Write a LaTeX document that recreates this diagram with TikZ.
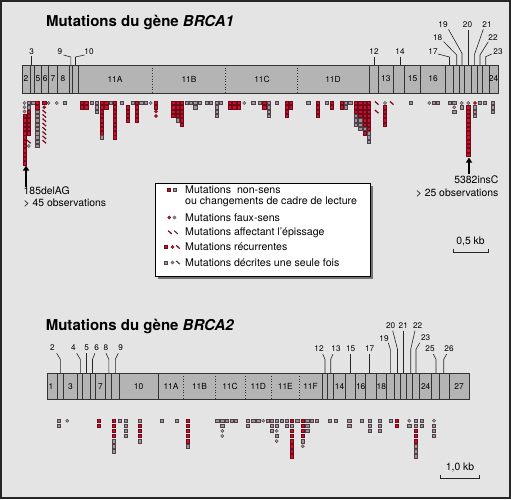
\documentclass[tikz,border=0pt]{standalone}
\usepackage{fontspec}
\setmainfont{TeX Gyre Heros}
\usetikzlibrary{arrows.meta}
\definecolor{bgc}{HTML}{E4E4E4}
\definecolor{barfill}{HTML}{B4B4B4}
\definecolor{mred}{HTML}{C8102E}
\definecolor{mredd}{HTML}{6E0A18}
\definecolor{mgray}{HTML}{A2929B}
\definecolor{mgrayd}{HTML}{4E4248}
\newcommand\mutcol[4]{%
  \foreach \mtype [count=\midx from 0] in {#4} {\pic at ({#1},{#2+\midx*#3}) {mk\mtype};}}
\newcommand\Aco[2]{\mutcol{#1}{103}{4.3}{#2}}
\newcommand\Bco[2]{\mutcol{#1}{420.7}{5.1}{#2}}
\tikzset{
  mkr/.pic={\filldraw[fill=mred,draw=mredd,line width=0.5pt] (-1.7,-1.7) rectangle (1.7,1.7);},
  mkg/.pic={\filldraw[fill=mgray,draw=mgrayd,line width=0.5pt] (-1.7,-1.7) rectangle (1.7,1.7);},
  mkd/.pic={\filldraw[fill=mgray,draw=mgrayd,line width=0.4pt] (0,0) circle (1.6pt);},
  mke/.pic={\filldraw[fill=mred,draw=mredd,line width=0.4pt] (0,0) circle (1.6pt);},
  mks/.pic={\draw[mredd,line width=1.2pt] (-1.8,-1.6) -- (1.8,1.6);},
  mkt/.pic={\draw[mgrayd,line width=1.2pt] (-1.8,-1.6) -- (1.8,1.6);},
  mkn/.pic={},
  genebar/.style={fill=barfill,draw=black!80,line width=0.8pt},
  exline/.style={draw=black!80,line width=0.7pt},
  dotline/.style={draw=black!80,line width=0.7pt,dotted},
  leader/.style={draw=black!85,line width=0.6pt},
  exlab/.style={font=\fontsize{8.4}{9}\selectfont,inner sep=0pt},
  numlab/.style={font=\fontsize{8.2}{9}\selectfont,inner sep=0pt},
  ann/.style={font=\fontsize{10.4}{12}\selectfont,inner sep=0pt},
  legtxt/.style={font=\fontsize{10.6}{12}\selectfont,inner sep=0pt,anchor=west},
  titlestyle/.style={font=\fontsize{15}{18}\selectfont\bfseries,inner sep=0pt},
  bigarrow/.style={draw=black,line width=1.6pt,-{Triangle[length=5pt,width=6pt]}},
  scalebar/.style={draw=black!85,line width=0.7pt},
}
\begin{document}
\begin{tikzpicture}[x=1pt,y=-1pt]
\useasboundingbox (0,0) rectangle (511,499);
\fill[bgc] (0,0) rectangle (511,499);
\draw[line width=2pt,black!85] (1,1) rectangle (510,498);

% ================= BRCA1 =================
\node[titlestyle] (title1) at (140,22.7) {Mutations du gène \textit{BRCA1}};
\path[genebar] (22,65) rectangle (498,93);
\foreach \x in {30,34,41.7,48.7,57.3,69,72.7,78.3,369.3,378.3,393.3,404.3,420.7,445.3,453.7,459.7,464.3,471.3,477.3,482,489}
  \draw[exline] (\x,65) -- (\x,93);
\foreach \x in {152.7,225.7,297.7}
  \draw[dotline] (\x,65) -- (\x,93);
\foreach \x/\n in {26/2,38/5,45.2/6,53/7,63/8,115/11A,189/11B,262/11C,333/11D,385.8/13,412.5/15,433/16,493.5/24}
  \node[exlab] (a\n) at (\x,79) {\n};
% numbered ticks
\node[numlab] (n3) at (31.7,51.7) {3};
\draw[leader] (31.5,56) -- (31.5,65);
\node[numlab] (n9) at (60,51.7) {9};
\draw[leader] (63.5,55) -- (70.8,57) -- (70.8,65);
\node[numlab] (n10) at (89,51.7) {10};
\draw[leader] (84.5,55) -- (75.5,57) -- (75.5,65);
\node[numlab] (n12) at (374,51.7) {12};
\draw[leader] (374,56.5) -- (374,65);
\node[numlab] (n14) at (400,51.7) {14};
\draw[leader] (400,56.5) -- (400,65);
\node[numlab] (n17) at (433,51.7) {17};
\draw[leader] (438,54) -- (449.5,57) -- (449.5,65);
\node[numlab] (n18) at (437.7,37.7) {18};
\draw[leader] (443.5,41.5) -- (456.7,55) -- (456.7,65);
\node[numlab] (n19) at (443,25) {19};
\draw[leader] (448.5,29.3) -- (462,53.3) -- (462,65);
\node[numlab] (n20) at (467.5,25) {20};
\draw[leader] (468,30) -- (468,65);
\node[numlab] (n21) at (487,25) {21};
\draw[leader] (483.3,29.3) -- (474.3,55) -- (474.3,65);
\node[numlab] (n22) at (493,37.7) {22};
\draw[leader] (488.3,41.7) -- (480,55) -- (480,65);
\node[numlab] (n23) at (498,51.7) {23};
\draw[leader] (491.7,54) -- (485.7,56.7) -- (485.7,65);

% BRCA1 mutations
\Aco{24.5}{d,d,d,r,r,r,r,r,r,r,r,r,r,r,r}
\Aco{28.8}{g,g,r,r,r,r,r,r,n,s,d}
\Aco{33.1}{g}
\Aco{37.4}{r,r,g,g,g,g,g,g,g,g,g}
\Aco{44.3}{r,e,s,s,s,s,s,s,s,s}
\Aco{48.6}{d}
\Aco{56.7}{d}
\Aco{65}{g}
\Aco{82}{r,r}
\Aco{86.3}{r,r}
\Aco{91.7}{g}
\Aco{96.7}{g,g,g}
\Aco{101.7}{r,r,r,r,r,r,r,r,g}
\Aco{106.2}{r,r}
\Aco{110.5}{g}
\Aco{115}{r,r,r,r,r,r,r,r,r}
\Aco{121.7}{g}
\Aco{127.5}{n,r,r,r,r}
\Aco{132.7}{g}
\Aco{136.9}{r,r,r,r,r}
\Aco{141.2}{g}
\Aco{145.5}{g}
\Aco{150.7}{d}
\Aco{156}{r,r,e,e}
\Aco{173.3}{r,r,r,r}
\Aco{177.6}{r,r,r,r,g}
\Aco{181.9}{r,r,r,r,r,r}
\Aco{186.7}{g}
\Aco{191}{g}
\Aco{195.3}{g,g}
\Aco{199.6}{g}
\Aco{206.7}{g}
\Aco{211}{g}
\Aco{216.7}{g,g,g,g}
\Aco{221}{g}
\Aco{230}{r,r}
\Aco{234.3}{r,r}
\Aco{238.6}{r,r}
\Aco{244.3}{d}
\Aco{253.3}{g}
\Aco{260}{g}
\Aco{264.3}{r,r}
\Aco{268.6}{g,g,g,g}
\Aco{276.7}{g}
\Aco{286.7}{r,r,r,r}
\Aco{291}{r,r}
\Aco{308.3}{g}
\Aco{317.7}{r,r,r,r}
\Aco{326.7}{g}
\Aco{331.7}{r,r}
\Aco{341.7}{r,r}
\Aco{346}{g,g}
\Aco{350.3}{g}
\Aco{356}{r,r,r,g,g,g}
\Aco{360.3}{r,r,r,r,g,g,g}
\Aco{364.6}{r,r,r,r,r,r,g,r}
\Aco{368.9}{r,r,r,r,r,r,r,g,g,g}
\Aco{376.7}{s,n,s}
\Aco{385}{d,r,r,r,r,r}
\Aco{391.7}{s}
\Aco{411}{g}
\Aco{429.3}{d}
\Aco{433.6}{g}
\Aco{437.9}{g}
\Aco{450}{g}
\Aco{454.3}{g,d,g}
\Aco{461.7}{d,g}
\Aco{468.3}{d,r,r,r,r,r,r,r,r,r,r,r,r}
\Aco{475}{e,g,g,g}
\Aco{480}{g}
\Aco{485}{g}
\Aco{492.7}{g,g,g}

% annotations
\coordinate (a1s) at (26,187);
\coordinate (a1e) at (26,165.5);
\draw[bigarrow] (a1s) -- (a1e);
\node[ann,anchor=west] (t185a) at (23.5,190.5) {185delAG};
\node[ann,anchor=west] (t185b) at (23.5,203.5) {> 45 observations};
\coordinate (a2s) at (469,174);
\coordinate (a2e) at (469,157.5);
\draw[bigarrow] (a2s) -- (a2e);
\node[ann,anchor=east] (t538a) at (498.5,180) {5382insC};
\node[ann,anchor=east] (t538b) at (498.5,193) {> 25 observations};
% scale bar 1
\node[ann] (sc1) at (470.5,241.5) {0,5 kb};
\draw[scalebar] (453,248.5) -- (453,252.5) -- (488,252.5) -- (488,248.5);

% legend
\fill[black!55] (158,186) rectangle (373,279);
\filldraw[fill=white,draw=black,line width=0.8pt] (155,183) rectangle (370,276);
\pic at (169,190) {mkr}; \pic at (174.5,190) {mkg};
\node[legtxt] (l1) at (185,190) {Mutations \ non-sens};
\node[legtxt] (l1b) at (185,202) {ou changements de cadre de lecture};
\pic at (169.3,217.5) {mke}; \pic at (174.5,217.5) {mkd};
\node[legtxt] (l2) at (185,217.5) {Mutations faux-sens};
\pic at (170,232.3) {mks}; \pic at (176,232.3) {mkt};
\node[legtxt] (l3) at (185,232.3) {Mutations affectant l'épissage};
\pic at (165.5,247) {mkr}; \pic at (172.5,247) {mke}; \pic at (178,247) {mks};
\node[legtxt] (l4) at (185,247) {Mutations récurrentes};
\pic at (165.5,262.5) {mkg}; \pic at (172.5,262.5) {mkd}; \pic at (178,262.5) {mkt};
\node[legtxt] (l5) at (185,262.5) {Mutations décrites une seule fois};

% ================= BRCA2 =================
\node[titlestyle] (title2) at (140,326) {Mutations du gène \textit{BRCA2}};
\path[genebar] (47.3,373.3) rectangle (469,399.5);
\foreach \x in {57.3,63.3,77.3,82.7,90,95.7,105.3,111.7,119,158.3,322,327.7,333.3,345.7,355.7,365.7,376,386.7,394.3,400.3,406,412.7,419.7,431.7,439.3,449}
  \draw[exline] (\x,373.3) -- (\x,399.5);
\foreach \x in {183.7,215,245,271.7,299}
  \draw[dotline] (\x,373.3) -- (\x,399.5);
\foreach \x/\n in {51/1,70.5/3,100.5/7,138.5/10,171/11A,199.5/11B,230/11C,258.3/11D,285.3/11E,310.5/11F,339.5/14,360.7/16,381.3/18,425.7/24,459/27}
  \node[exlab] (b\n) at (\x,386.5) {\n};
\node[numlab] (m2) at (52.3,347.7) {2};
\draw[leader] (56.7,353.3) -- (60.3,359.3) -- (60.3,373.3);
\node[numlab] (m4) at (73.3,347.7) {4};
\draw[leader] (76.7,353.3) -- (80.3,359.3) -- (80.3,373.3);
\node[numlab] (m5) at (86.7,347.7) {5};
\draw[leader] (86.7,353.3) -- (86.7,373.3);
\node[numlab] (m6) at (96.7,347.7) {6};
\draw[leader] (95,353.3) -- (92.5,359.3) -- (92.5,373.3);
\node[numlab] (m8) at (106,347.7) {8};
\draw[leader] (106,353.3) -- (108.8,359.3) -- (108.8,373.3);
\node[numlab] (m9) at (120.7,347.7) {9};
\draw[leader] (118.3,353.3) -- (115.3,359.3) -- (115.3,373.3);
\node[numlab] (m12) at (319,348.3) {12};
\draw[leader] (322.7,354) -- (325,359.3) -- (325,373.3);
\node[numlab] (m13) at (336,348.3) {13};
\draw[leader] (333,354) -- (330.7,359.3) -- (330.7,373.3);
\node[numlab] (m15) at (350.7,348.3) {15};
\draw[leader] (350.7,354) -- (350.7,373.3);
\node[numlab] (m17) at (369.6,348.3) {17};
\draw[leader] (369.6,354) -- (369.6,373.3);
\node[numlab] (m19) at (384,338.3) {19};
\draw[leader] (388.3,342.7) -- (390.3,349.3) -- (390.3,373.3);
\node[numlab] (m20) at (390.7,326) {20};
\draw[leader] (392.7,330.7) -- (397.5,349.3) -- (397.5,373.3);
\node[numlab] (m21) at (403.3,326) {21};
\draw[leader] (403.3,330.7) -- (403.3,373.3);
\node[numlab] (m22) at (417.7,326) {22};
\draw[leader] (415,330.7) -- (410.7,349.3) -- (410.7,373.3);
\node[numlab] (m23) at (425.7,337.7) {23};
\draw[leader] (419.8,342.7) -- (416,349.3) -- (416,373.3);
\node[numlab] (m25) at (430,348.3) {25};
\draw[leader] (433.3,354) -- (436,359.3) -- (436,373.3);
\node[numlab] (m26) at (449,348.3) {26};
\draw[leader] (446.7,354) -- (443.7,359.3) -- (443.7,373.3);

% BRCA2 mutations
\Bco{59}{g,g}
\Bco{67.3}{d}
\Bco{98.7}{r,r}
\Bco{114}{r,r,r,r,g,g,g}
\Bco{120}{g}
\Bco{126}{g,g,g,g}
\Bco{140}{g,r,r,r,g}
\Bco{162}{g}
\Bco{177}{g}
\Bco{187.7}{r,r,r,r,r,g}
\Bco{217.3}{g}
\Bco{222.3}{g,g,d,d}
\Bco{227}{g}
\Bco{231.5}{g}
\Bco{236}{g}
\Bco{247.7}{g,g}
\Bco{253.3}{g}
\Bco{258.3}{g}
\Bco{263.3}{d}
\Bco{267.5}{g}
\Bco{272}{g,g,g}
\Bco{276.7}{g,g,d,g,d}
\Bco{281.7}{g}
\Bco{286.5}{g,g}
\Bco{291.7}{r,g,r,r,r,r,r,r}
\Bco{297.3}{g}
\Bco{302.7}{r,r,r,r,g,d}
\Bco{307.3}{g,g,g}
\Bco{312}{g}
\Bco{316.5}{g}
\Bco{330}{g}
\Bco{336}{g}
\Bco{349.3}{g,g}
\Bco{361.7}{g}
\Bco{370}{g,g,g}
\Bco{380}{g,g,g}
\Bco{390.7}{g}
\Bco{396.7}{r,r}
\Bco{409.3}{d,g}
\Bco{415.7}{g,g,r,r,r,g,g,g}
\Bco{421.7}{g,g}
\Bco{434}{d,g,g,g}

% scale bar 2
\node[ann] (sc2) at (460,467.5) {1,0 kb};
\draw[scalebar] (440,474.5) -- (440,478.5) -- (479.3,478.5) -- (479.3,474.5);
\end{tikzpicture}
\end{document}
